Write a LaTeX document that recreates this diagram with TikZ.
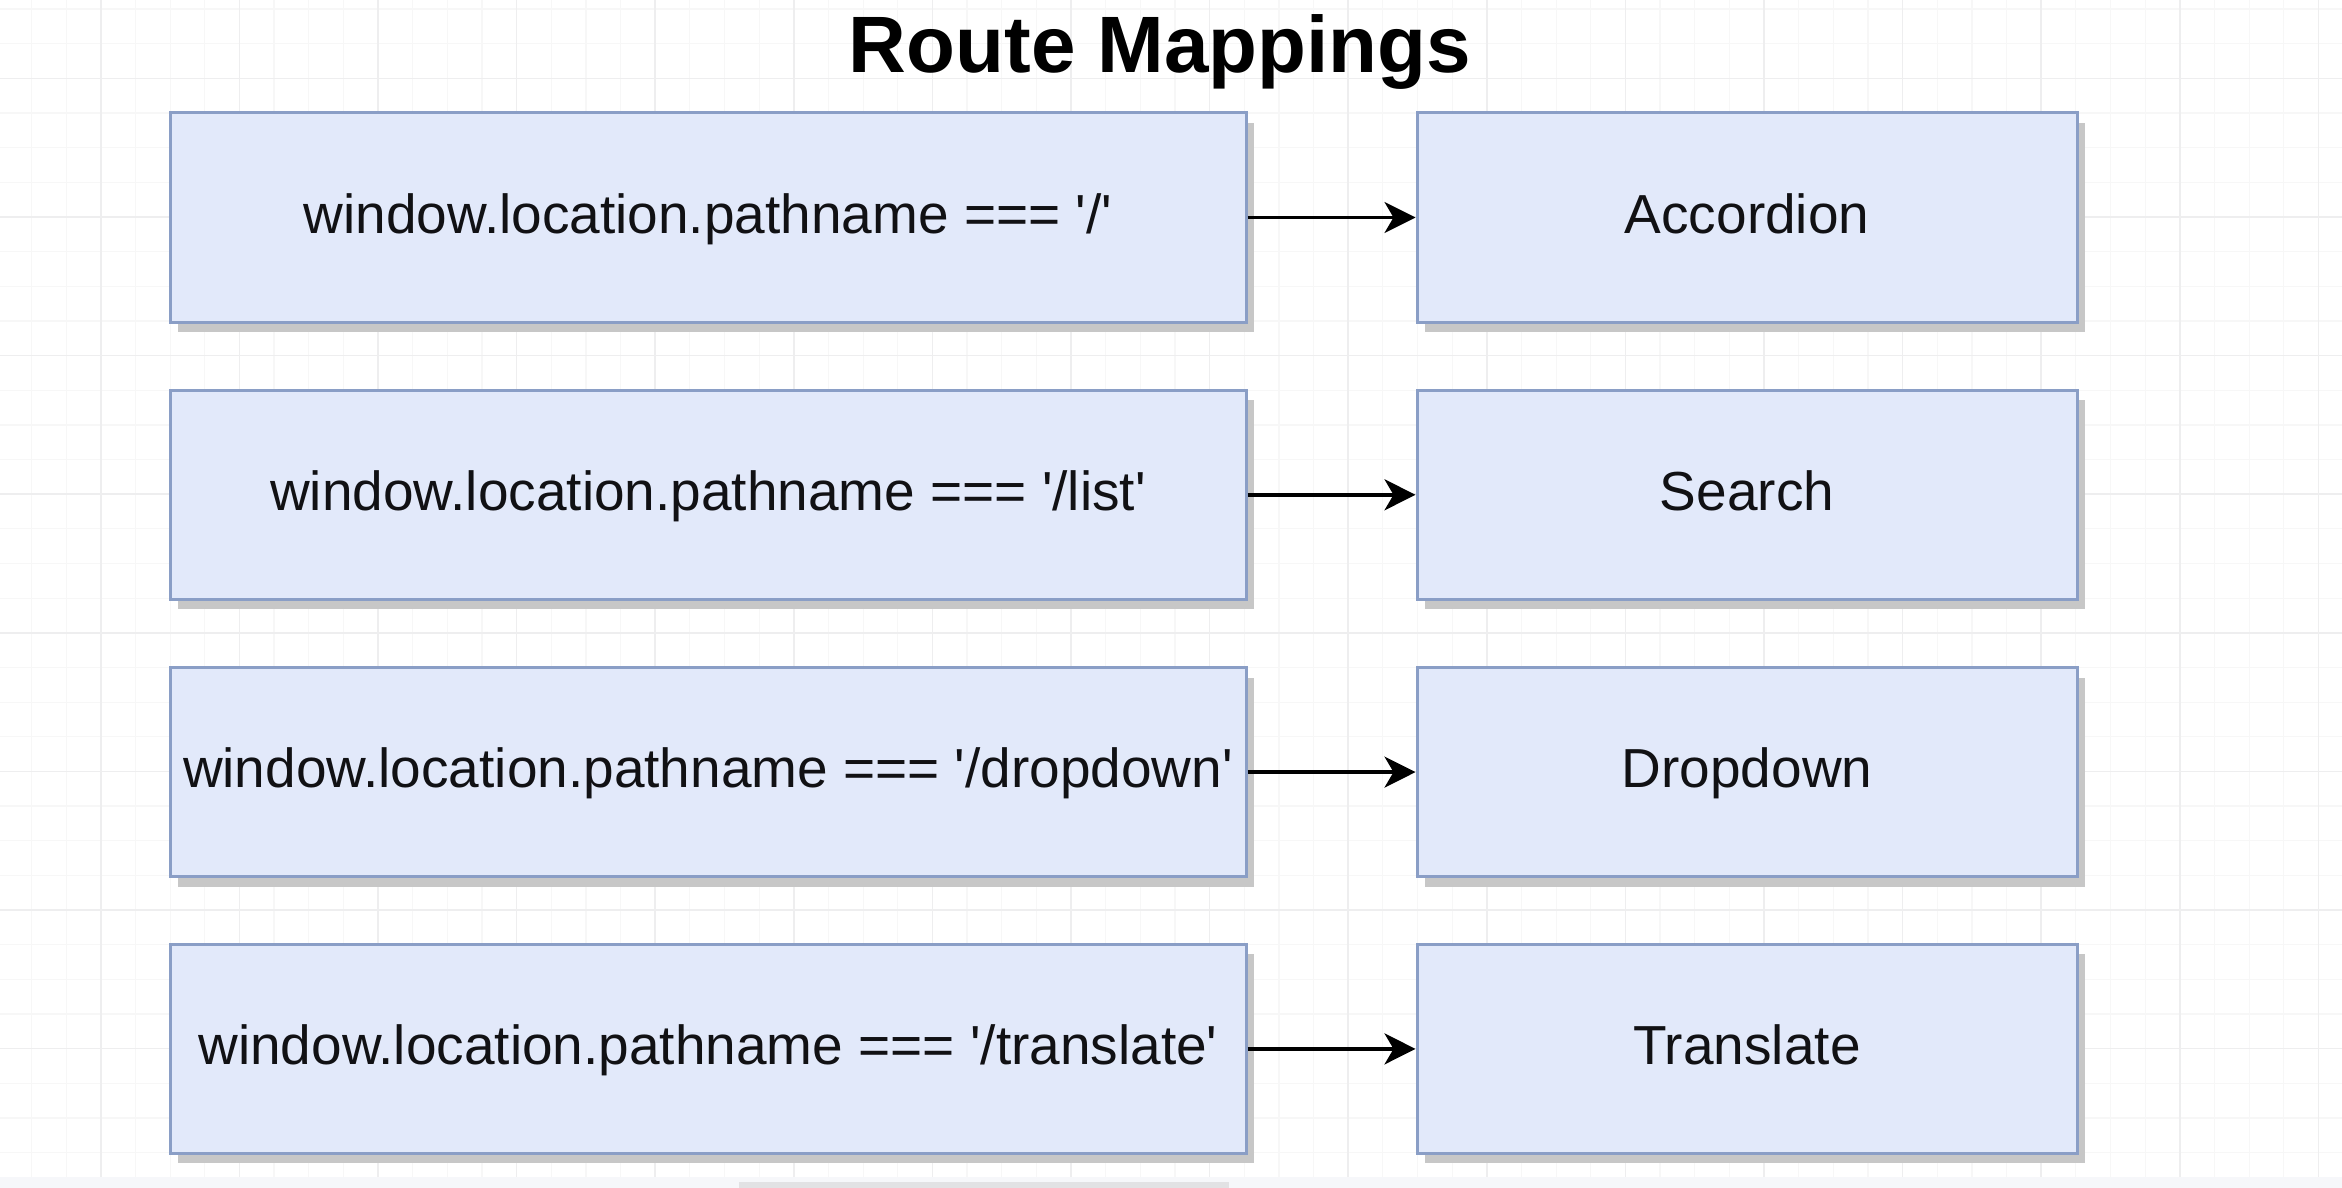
\documentclass[tikz,border=0pt]{standalone}
\usepackage{fontspec}
\setmainfont{Liberation Sans}
\usetikzlibrary{arrows.meta,shadows}
\definecolor{boxfill}{RGB}{226,233,250}
\definecolor{boxline}{RGB}{138,158,198}
\definecolor{gridminor}{RGB}{247,247,247}
\definecolor{gridmajor}{RGB}{238,238,239}
\definecolor{txt}{RGB}{17,17,20}
\definecolor{strip}{RGB}{246,247,250}
\definecolor{scrollbar}{RGB}{226,226,228}
\newcommand{\sq}{\textquotesingle}
\tikzset{
  basebox/.style={draw=boxline, fill=boxfill, line width=3pt, minimum height=209pt,
    inner sep=0pt, text height=40pt, text depth=9pt, text=txt,
    font=\fontsize{55}{66}\selectfont,
    drop shadow={shadow xshift=8pt, shadow yshift=-10pt, fill=black!22, opacity=1}},
  lbox/.style={basebox, minimum width=1076pt},
  rbox/.style={basebox, minimum width=660pt},
  arr/.style={draw=black, line width=3.5pt, -{Stealth[length=31pt,width=31pt,inset=9pt]}},
  gminor/.style={draw=gridminor, line width=1.2pt},
  gmajor/.style={draw=gridmajor, line width=1.5pt},
  titlestyle/.style={font=\bfseries\fontsize{80}{96}\selectfont, text=black, inner sep=0pt}
}
\begin{document}
\begin{tikzpicture}[x=1pt,y=-1pt]
\useasboundingbox (0,0) rectangle (2342,1188);
\fill[white] (0,0) rectangle (2342,1188);
% grid
\foreach \i in {-2,...,64} {
  \pgfmathsetmacro{\gx}{100.8+\i*34.65}
  \draw[gminor] (\gx,0) -- (\gx,1177);
}
\foreach \i in {-2,...,31} {
  \pgfmathsetmacro{\gy}{78.4+\i*34.65}
  \draw[gminor] (0,\gy) -- (2342,\gy);
}
\foreach \i in {-1,...,16} {
  \pgfmathsetmacro{\gx}{100.8+\i*138.6}
  \draw[gmajor] (\gx,0) -- (\gx,1177);
}
\foreach \i in {0,...,7} {
  \pgfmathsetmacro{\gy}{78.4+\i*138.6}
  \draw[gmajor] (0,\gy) -- (2342,\gy);
}
% bottom strip
\fill[strip] (0,1177) rectangle (2342,1188);
\fill[scrollbar] (739,1182) rectangle (1229,1188);
% title
\node[titlestyle, anchor=base] (title) at (1160,73) {Route Mappings};
% boxes
\node[lbox] (l1) at (708,217.5) {window.location.pathname === \sq/\sq};
\node[lbox] (l2) at (708,494.8) {window.location.pathname === \sq/list\sq};
\node[lbox] (l3) at (708,772.1) {window.location.pathname === \sq/dropdown\sq};
\node[lbox] (l4) at (708,1048.9) {window.location.pathname === \sq/translate\sq};
\node[rbox] (r1) at (1747,217.5) {Accordion};
\node[rbox] (r2) at (1747,494.8) {Search};
\node[rbox] (r3) at (1747,772.1) {Dropdown};
\node[rbox] (r4) at (1747,1048.9) {Translate};
% arrows
\draw[arr] (l1) -- (r1);
\draw[arr] (l2) -- (r2);
\draw[arr] (l3) -- (r3);
\draw[arr] (l4) -- (r4);
\end{tikzpicture}
\end{document}
